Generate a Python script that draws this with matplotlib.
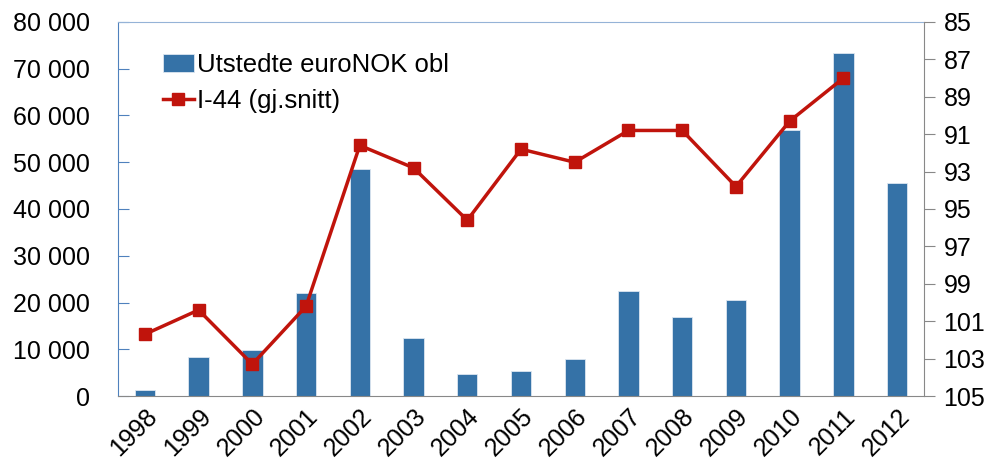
import numpy as np
import matplotlib
matplotlib.use("Agg")
import matplotlib.pyplot as plt
from matplotlib.ticker import FuncFormatter

plt.rcParams['font.family'] = ['Liberation Sans', 'DejaVu Sans']

years = ['1998', '1999', '2000', '2001', '2002', '2003', '2004', '2005',
         '2006', '2007', '2008', '2009', '2010', '2011', '2012']
euronok = [1300, 8300, 9800, 22000, 48600, 12400, 4800, 5300,
           8000, 22400, 16800, 20500, 56800, 73300, 45500]
i44 = [101.7, 100.4, 103.3, 100.2, 91.6, 92.8, 95.6, 91.8,
       92.5, 90.8, 90.8, 93.8, 90.3, 88.0]

bar_color = '#3572A7'
line_color = '#C0140C'
fs = 18
leg_fs = 18.5

fig = plt.figure(figsize=(9.94, 4.63), dpi=100)
ax = fig.add_axes([0.1187, 0.1447, 0.8109, 0.8078])
x = np.arange(len(years))
bars = ax.bar(x, euronok, width=0.38, color=bar_color, edgecolor='#DCE6F0',
              linewidth=0.6, label='Utstedte euroNOK obl', zorder=2)
ax.set_xlim(-0.5, len(years) - 0.5)
ax.set_ylim(0, 80000)
ax.set_yticks(np.arange(0, 80001, 10000))
ax.yaxis.set_major_formatter(FuncFormatter(lambda v, p: f'{int(v):,}'.replace(',', ' ')))
ax.set_xticks(x)
ax.set_xticklabels(years, rotation=45, ha='right', rotation_mode='anchor')
ax.tick_params(axis='y', direction='in', length=8, labelsize=fs, color='#4F81BD', pad=20)
ax.tick_params(axis='x', length=0, labelsize=fs, pad=6)
ax.spines['left'].set_color('#4F81BD')
ax.spines['top'].set_color('#95B3D7')
ax.spines['bottom'].set_color('#888888')
ax.spines['right'].set_visible(False)

ax2 = ax.twinx()
line, = ax2.plot(x[:len(i44)], i44, color=line_color, lw=2.5, marker='s',
                 markersize=8.5, label='I-44 (gj.snitt)', zorder=3)
ax2.set_ylim(105, 85)
ax2.set_yticks(np.arange(85, 106, 2))
ax2.tick_params(axis='y', direction='out', length=8, labelsize=fs, color='#888888', pad=6)
ax2.spines['right'].set_color('#888888')
ax2.spines['left'].set_visible(False)
ax2.spines['top'].set_visible(False)
ax2.spines['bottom'].set_visible(False)

leg = ax.legend([bars, line], ['Utstedte euroNOK obl', 'I-44 (gj.snitt)'],
                loc='upper left', bbox_to_anchor=(0.027, 0.98), frameon=False,
                fontsize=leg_fs, handlelength=1.2, handletextpad=0.12, labelspacing=0.5)

fig.savefig('out.png', dpi=100)
